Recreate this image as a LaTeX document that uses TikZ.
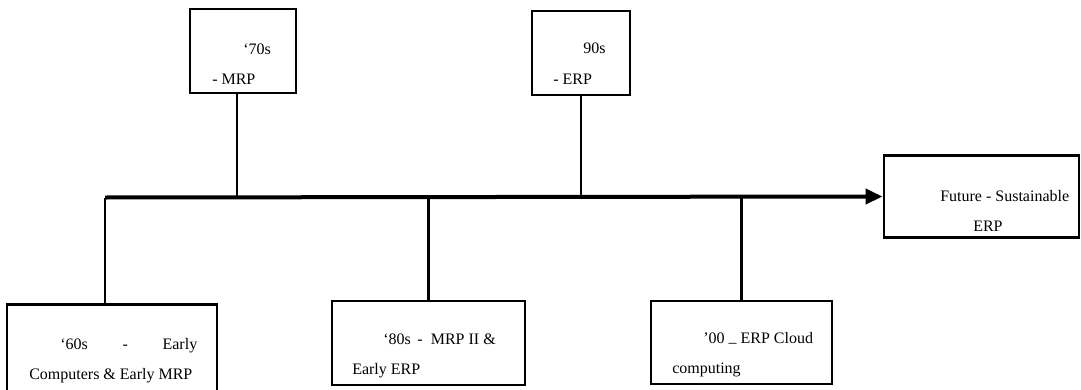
\documentclass[tikz,border=0pt]{standalone}
\usepackage{fontspec}
\setmainfont{Liberation Serif}
\usetikzlibrary{positioning,arrows.meta}

\begin{document}
\begin{tikzpicture}[x=0.75pt, y=-0.75pt,
    erabox/.style={draw, line width=2.2pt, inner sep=0pt},
    lbl/.style={anchor=base west, inner sep=0pt, font=\fontsize{12}{14}\selectfont},
    stem/.style={line width=1.7pt},
    spine/.style={line width=3pt, -{Triangle[length=12.75pt,width=11.25pt]}}]

    \useasboundingbox (0,0) rectangle (1081,389);

    % BOÎTES DU HAUT
    \node[erabox, minimum width=79.5pt, minimum height=63pt] (b70) at (243,51) {};
    \node[erabox, minimum width=73.5pt, minimum height=63pt] (b90) at (581,53) {};

    % BOÎTES DU BAS
    \node[erabox, minimum width=157.5pt, minimum height=68pt] (b60) at (112,349.5) {};
    \node[erabox, minimum width=144.75pt, minimum height=63pt] (b80) at (428.5,343) {};
    \node[erabox, minimum width=135.75pt, minimum height=62.25pt] (b00) at (741.5,342.5) {};

    % BOÎTE FUTURE
    \node[erabox, minimum width=146.25pt, minimum height=61.5pt] (bfut) at (981.5,196.5) {};

    % LIGNE DU TEMPS
    \coordinate (t0) at (105,197.5);
    \draw[spine] (t0) -- (bfut.west);

    % LIAISONS
    \draw[stem] ([xshift=-5.25pt]b60.north) -- ([xshift=-5.25pt]b60.north |- t0);
    \draw[stem] ([xshift=-4.5pt]b70.south) -- ([xshift=-4.5pt]b70.south |- t0);
    \draw[stem] (b80.north) -- (b80.north |- t0);
    \draw[stem] (b90.south) -- (b90.south |- t0);
    \draw[stem] (b00.north) -- (b00.north |- t0);

    % TEXTES
    \node[lbl] (t70a) at (243,54) {‘70s};
    \node[lbl] (t70b) at (212,84) {- MRP};
    \node[lbl] (t90a) at (583,53) {90s};
    \node[lbl] (t90b) at (553,84) {- ERP};
    \node[lbl] (t60a) at (60,349) {\makebox[102.75pt][s]{‘60s\hfill-\hfill Early}};
    \node[lbl] (t60b) at (29,379) {Computers \& Early MRP};
    \node[lbl] (t80a) at (383,344) {‘80s \,-\ \ MRP II \&};
    \node[lbl] (t80b) at (352,374) {Early ERP};
    \node[lbl] (t00a) at (703,343) {’00 \raisebox{-3pt}{–} ERP Cloud};
    \node[lbl] (t00b) at (672,373) {computing};
    \node[lbl] (tfa) at (940,201) {Future - Sustainable};
    \node[lbl] (tfb) at (973,231) {ERP};

\end{tikzpicture}
\end{document}
